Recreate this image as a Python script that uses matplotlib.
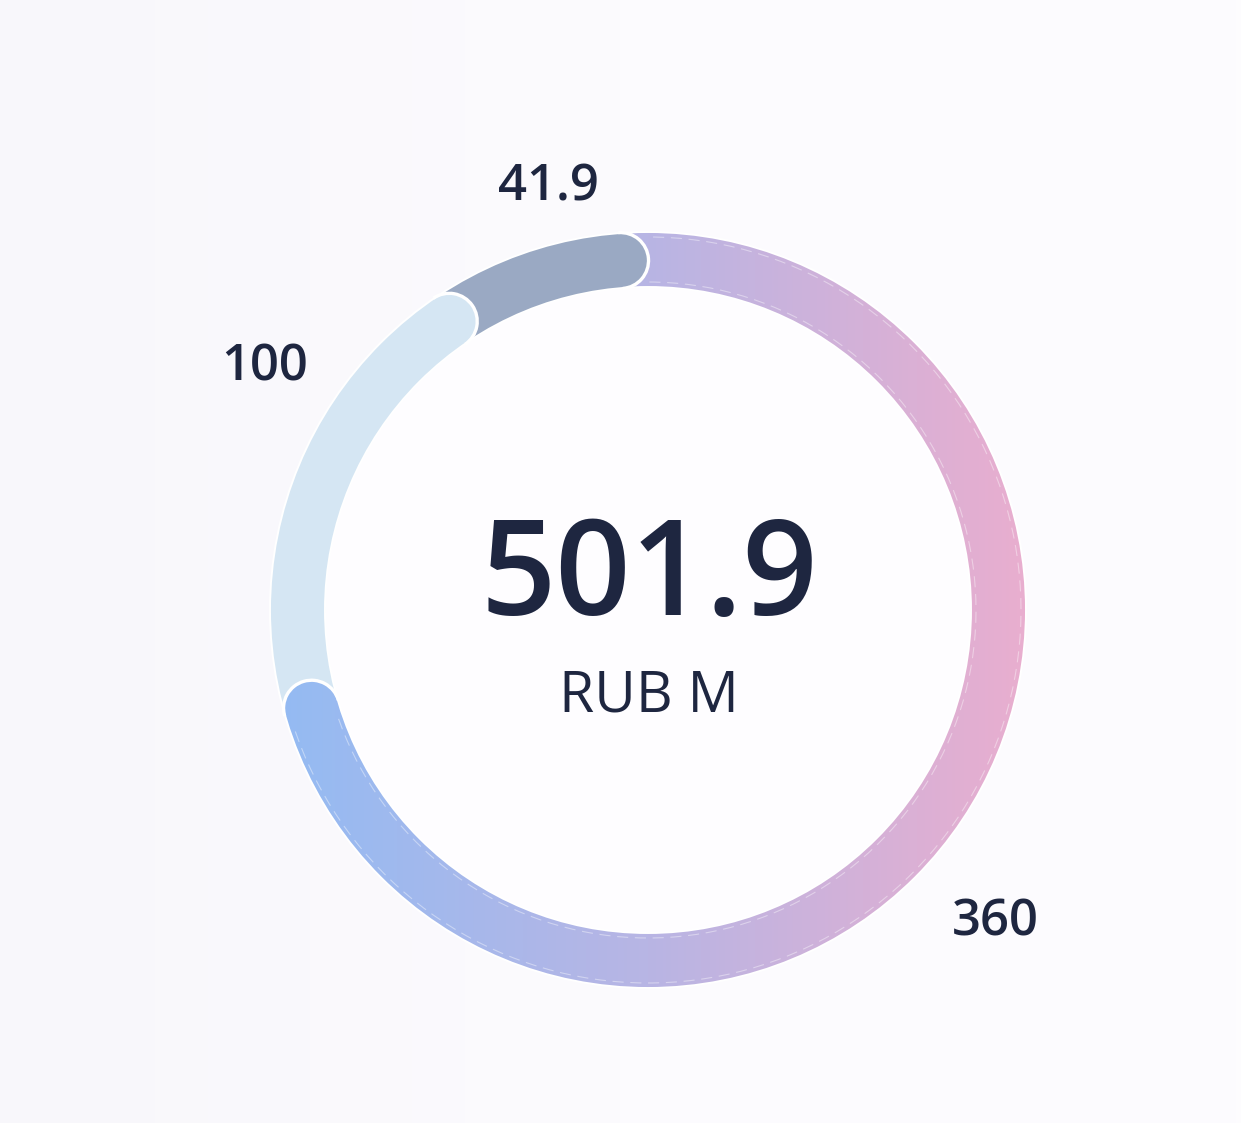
#!/usr/bin/env python3
"""Donut chart: RUB M split into three parts, total in the middle."""
import numpy as np
import matplotlib

matplotlib.use("Agg")
import matplotlib.pyplot as plt
from matplotlib.patches import Wedge, Circle, Arc
from matplotlib.colors import LinearSegmentedColormap

# data
labels = ["360", "100", "41.9"]
values = [360, 100, 41.9]
total_text = "501.9"
unit_text = "RUB M"

# styles
SEG_COLORS = [None, "#d5e6f3", "#9aa9c3"]          # None -> gradient
GRAD = ["#93bbf3", "#b8b5e4", "#e9aecf"]            # left -> right
TEXT = "#1e2640"
LABEL_R = [463, 457, 440]                           # label distance (px)
LABEL_NUDGE = [-2.3, -8.9, -2.0]                    # deg, off the mid angle

W, H = 1241, 1123
CX, CY = 648, H - 610
R_OUT, R_IN = 378, 323
WIDTH = R_OUT - R_IN
R_MID = (R_OUT + R_IN) / 2
CAP = np.degrees((WIDTH / 2) / R_MID)

plt.rcParams["font.family"] = ["Open Sans", "DejaVu Sans"]

fig = plt.figure(figsize=(W / 100, H / 100), dpi=100)
ax = fig.add_axes([0, 0, 1, 1])
ax.set_xlim(0, W)
ax.set_ylim(0, H)
ax.axis("off")

# soft background
bg = LinearSegmentedColormap.from_list("bg", ["#f8f7fb", "#fcfbfe", "#fdfcfe"])
ax.imshow(np.linspace(0, 1, 256)[None, :], cmap=bg, extent=(0, W, 0, H),
          aspect="auto", zorder=0)
ax.add_patch(Circle((CX, CY), R_IN, color="#fefdff", zorder=1, lw=0))

grad = LinearSegmentedColormap.from_list("ring", GRAD)
grad_img = np.linspace(0, 1, 512)[None, :]
grad_ext = (CX - R_OUT, CX + R_OUT, CY - R_OUT, CY + R_OUT)


def fill(patch, color, z):
    if color is None:
        patch.set_facecolor("none")
        patch.set_edgecolor("none")
        ax.add_patch(patch)
        im = ax.imshow(grad_img, cmap=grad, extent=grad_ext, aspect="auto", zorder=z)
        im.set_clip_path(patch)
    else:
        patch.set_facecolor(color)
        patch.set_edgecolor("none")
        patch.set_zorder(z)
        ax.add_patch(patch)


total = sum(values)
spans = [v / total * 360 for v in values]
starts = 90 - np.concatenate([[0], np.cumsum(spans)[:-1]])
ends = starts - np.array(spans)

# bodies (start tucked under the previous cap)
for s, e, col in zip(starts, ends, SEG_COLORS):
    fill(Wedge((CX, CY), R_OUT, e + CAP, s + CAP, width=WIDTH), col, 2)

# faint inner lines on the gradient arc
for r in (R_OUT - 5, R_IN + 5):
    ax.add_patch(Arc((CX, CY), 2 * r, 2 * r, theta1=ends[0] + CAP, theta2=starts[0],
                     color="white", lw=0.8, alpha=0.4, ls=(0, (10, 6)), zorder=2.5))

# round caps on the clockwise end of each segment
for e, col in zip(ends, SEG_COLORS):
    phi = e + CAP
    px = CX + R_MID * np.cos(np.radians(phi))
    py = CY + R_MID * np.sin(np.radians(phi))
    fill(Circle((px, py), WIDTH / 2), col, 3)
    ax.add_patch(Arc((px, py), WIDTH + 1, WIDTH + 1, theta1=phi - 180, theta2=phi,
                     color="white", lw=2.4, zorder=4))

# thin white rim
for r in (R_OUT, R_IN):
    ax.add_patch(Circle((CX, CY), r, fill=False, ec="white", lw=1.4, zorder=5))

# outside value labels
for s, sp, lab, r, nd in zip(starts, spans, labels, LABEL_R, LABEL_NUDGE):
    a = np.radians(s - sp / 2 + nd)
    ax.text(CX + r * np.cos(a), CY + r * np.sin(a) - 19, lab, ha="center",
            va="baseline", fontsize=36.5, fontweight="semibold", color=TEXT)

# centre total
ax.text(CX + 1, H - 615, total_text, ha="center", va="baseline", fontsize=95,
        fontweight="semibold", color=TEXT)
ax.text(CX + 1, H - 712, unit_text, ha="center", va="baseline", fontsize=41,
        color=TEXT)

fig.savefig("out.png", dpi=100)
plt.close(fig)
